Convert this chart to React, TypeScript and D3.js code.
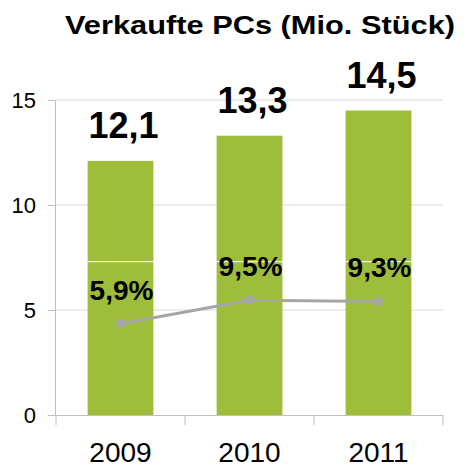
import { useEffect, useRef } from 'react'
import * as d3 from 'd3'

const TITLE = 'Verkaufte PCs (Mio. Stück)'
const YEARS = ['2009', '2010', '2011']
const UNITS = [12.1, 13.3, 14.5]
const GROWTH = [5.9, 9.5, 9.3]
const Y_TICKS = [0, 5, 10, 15]
// white separator line visible across the bars
const WHITE_LINE_AT = 7.3

const W = 470
const H = 468
const M = { top: 100, right: 27, bottom: 53, left: 56 }
const FONT = 'Arial, Liberation Sans, Helvetica, sans-serif'
const GREEN = '#9ebd3b'
const GRAY = '#a6a6a6'

const fmt = (v: number) => v.toFixed(1).replace('.', ',')

export default function App() {
  const svgRef = useRef<SVGSVGElement>(null)

  useEffect(() => {
    if (!svgRef.current) return
    const svg = d3.select(svgRef.current)
    svg.selectAll('*').remove()

    const x0 = M.left
    const x1 = W - M.right
    const y0 = H - M.bottom
    const y1 = M.top

    const x = d3.scaleBand<string>().domain(YEARS).range([x0, x1]).padding(0)
    const y = d3.scaleLinear().domain([0, 15]).range([y0, y1])
    const y2 = d3.scaleLinear().domain([-8, 40]).range([y0, y1])
    const barW = x.bandwidth() * 0.51
    const cx = (c: string) => (x(c) ?? 0) + x.bandwidth() / 2

    // ── Title ─────────────────────────────────────────────────────────────
    svg.append('text')
      .attr('x', 260).attr('y', 34)
      .attr('text-anchor', 'middle')
      .attr('font-family', FONT).attr('font-weight', 'bold')
      .attr('font-size', 26)
      .attr('textLength', 390).attr('lengthAdjust', 'spacingAndGlyphs')
      .attr('fill', '#000').text(TITLE)

    // ── Grid ──────────────────────────────────────────────────────────────
    svg.append('g')
      .selectAll('line')
      .data(Y_TICKS.filter((t) => t > 0))
      .join('line')
      .attr('x1', x0).attr('x2', x1)
      .attr('y1', (d) => y(d)).attr('y2', (d) => y(d))
      .attr('stroke', '#d9d9d9').attr('stroke-width', 1)

    // ── Bars ──────────────────────────────────────────────────────────────
    svg.append('g')
      .selectAll('rect')
      .data(YEARS)
      .join('rect')
      .attr('x', (d) => cx(d) - barW / 2)
      .attr('width', barW)
      .attr('y', (_, i) => y(UNITS[i]))
      .attr('height', (_, i) => y(0) - y(UNITS[i]))
      .attr('fill', GREEN)

    svg.append('line')
      .attr('x1', x0).attr('x2', x1)
      .attr('y1', y(WHITE_LINE_AT)).attr('y2', y(WHITE_LINE_AT))
      .attr('stroke', '#fff').attr('stroke-width', 1)

    // ── Axes ──────────────────────────────────────────────────────────────
    const yAxis = svg.append('g').attr('transform', `translate(${x0},0)`)
      .call(d3.axisLeft(y).tickValues(Y_TICKS).tickSize(8).tickPadding(12).tickFormat((d) => `${d}`))
    yAxis.select('.domain').attr('stroke', '#bfbfbf').attr('d', `M-0.5,${y0}V${y1}`)
    yAxis.selectAll('line').attr('stroke', '#bfbfbf')
    yAxis.selectAll('text')
      .attr('font-family', FONT).attr('font-size', 22).attr('fill', '#000')

    const xAxis = svg.append('g').attr('transform', `translate(0,${y0})`)
    xAxis.append('line')
      .attr('x1', x0).attr('x2', x1).attr('y1', 0.5).attr('y2', 0.5)
      .attr('stroke', '#bfbfbf')
    const bounds = [...YEARS.map((c) => x(c) ?? 0), x1]
    xAxis.selectAll('line.tick')
      .data(bounds)
      .join('line')
      .attr('class', 'tick')
      .attr('x1', (d) => d).attr('x2', (d) => d)
      .attr('y1', 0).attr('y2', 10)
      .attr('stroke', '#bfbfbf')
    xAxis.selectAll('text')
      .data(YEARS)
      .join('text')
      .attr('x', (d) => cx(d)).attr('y', 47)
      .attr('text-anchor', 'middle')
      .attr('font-family', FONT).attr('font-size', 28).attr('fill', '#000')
      .text((d) => d)

    // ── Growth line ───────────────────────────────────────────────────────
    const line = d3.line<number>()
      .x((_, i) => cx(YEARS[i]))
      .y((d) => y2(d))
    svg.append('path')
      .datum(GROWTH)
      .attr('fill', 'none').attr('stroke', GRAY).attr('stroke-width', 3)
      .attr('d', line)
    svg.append('g')
      .selectAll('rect')
      .data(GROWTH)
      .join('rect')
      .attr('x', (_, i) => cx(YEARS[i]) - 4)
      .attr('y', (d) => y2(d) - 4)
      .attr('width', 8).attr('height', 8)
      .attr('fill', GRAY)

    // ── Labels ────────────────────────────────────────────────────────────
    svg.append('g')
      .selectAll('text')
      .data(UNITS)
      .join('text')
      .attr('x', (_, i) => cx(YEARS[i]) + 3)
      .attr('y', (d) => y(d) - 23)
      .attr('text-anchor', 'middle')
      .attr('font-family', FONT).attr('font-weight', 'bold').attr('font-size', 36)
      .attr('fill', '#000')
      .text((d) => fmt(d))

    svg.append('g')
      .selectAll('text')
      .data(GROWTH)
      .join('text')
      .attr('x', (_, i) => cx(YEARS[i]) + 1)
      .attr('y', (d) => y2(d) - 24)
      .attr('text-anchor', 'middle')
      .attr('font-family', FONT).attr('font-weight', 'bold').attr('font-size', 28)
      .attr('fill', '#000')
      .text((d) => `${fmt(d)}%`)
  }, [])

  return (
    <svg
      ref={svgRef}
      width={W}
      height={H}
      style={{ position: 'absolute', left: 0, top: 0, background: '#fff', display: 'block' }}
    />
  )
}
